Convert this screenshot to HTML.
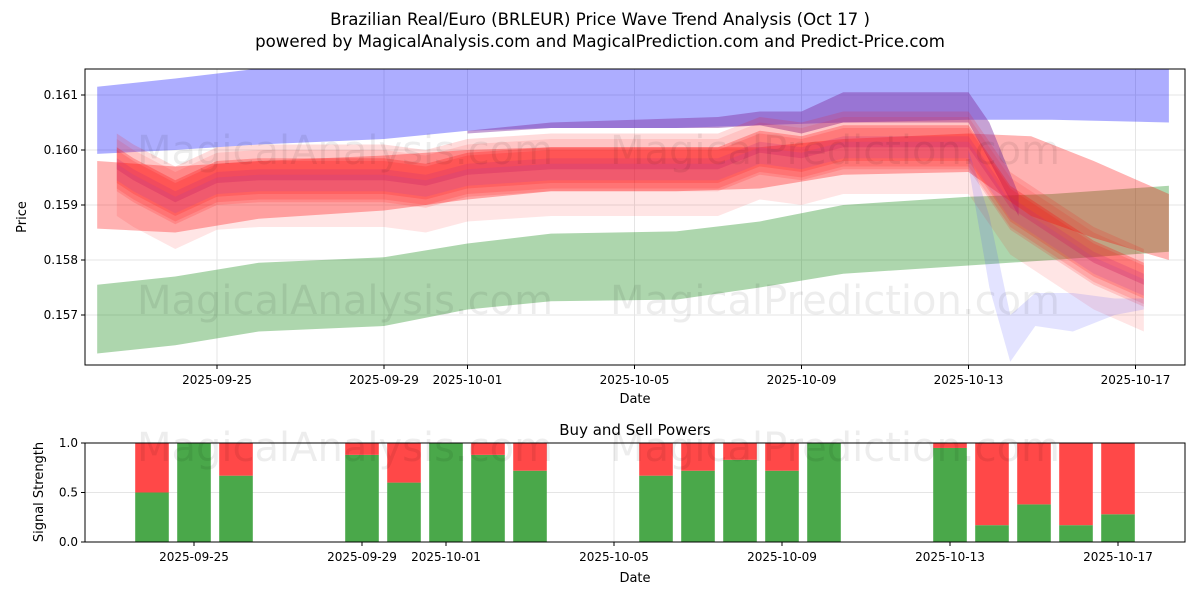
<!DOCTYPE html>
<html><head><meta charset="utf-8"><style>
body{margin:0;background:#fff;font-family:"Liberation Sans","DejaVu Sans",sans-serif}
svg text{font-family:"DejaVu Sans","Liberation Sans",sans-serif}
</style></head><body>
<svg id="c" width="1200" height="600" viewBox="0 0 1200 600">
<text x="600" y="25" text-anchor="middle" font-size="16.6">Brazilian Real/Euro (BRLEUR) Price Wave Trend Analysis (Oct 17 )</text>
<text x="600" y="47" text-anchor="middle" font-size="16.6">powered by MagicalAnalysis.com and MagicalPrediction.com and Predict-Price.com</text>
<defs><clipPath id="cp1"><rect x="85" y="69" width="1100" height="296"/></clipPath><clipPath id="cp2"><rect x="85" y="443" width="1100" height="99"/></clipPath></defs>
<g id="topg" clip-path="url(#cp1)"></g>
<g id="botg" clip-path="url(#cp2)"></g>
<g id="axes"></g>
</svg>
<script>
const bandDates=["2025-09-22.13","2025-09-24","2025-09-26","2025-09-29","2025-10-01","2025-10-03","2025-10-06","2025-10-08","2025-10-10","2025-10-13","2025-10-15","2025-10-17.8"];
const blueTop=[0.16115,0.1613,0.16148,0.1616,0.1617,0.1617,0.1617,0.1617,0.1617,0.1617,0.1617,0.1617];
const blueBot=[0.15993,0.16,0.1601,0.1602,0.16035,0.1604,0.1604,0.16045,0.1605,0.16055,0.16055,0.1605];
const greenTop=[0.15755,0.1577,0.15795,0.15805,0.1583,0.15848,0.15852,0.1587,0.159,0.15915,0.1592,0.15935];
const greenBot=[0.1563,0.15645,0.1567,0.1568,0.1571,0.15725,0.15728,0.1575,0.15775,0.1579,0.158,0.15815];
const wideDates=["2025-09-22.13","2025-09-24","2025-09-26","2025-09-29","2025-10-01","2025-10-03","2025-10-06","2025-10-08","2025-10-10","2025-10-13","2025-10-14.5","2025-10-16","2025-10-17.8"];
const wideTop=[0.1598,0.1597,0.1598,0.1599,0.16,0.16005,0.16005,0.16005,0.1602,0.1603,0.16025,0.1598,0.1592];
const wideBot=[0.15857,0.1585,0.15875,0.1589,0.1591,0.15925,0.15925,0.1593,0.15955,0.1596,0.1588,0.1584,0.1580];
const priceDates=["2025-09-22.6","2025-09-23","2025-09-24","2025-09-25","2025-09-26","2025-09-29","2025-09-30","2025-10-01","2025-10-03","2025-10-06","2025-10-07","2025-10-08","2025-10-09","2025-10-10","2025-10-13","2025-10-14","2025-10-15","2025-10-16","2025-10-17.2"];
const priceMid=[0.1597,0.1595,0.1591,0.15945,0.1595,0.1595,0.1594,0.1596,0.1597,0.1597,0.1597,0.1600,0.1599,0.1601,0.1601,0.1590,0.1585,0.1580,0.1576];
const purpleDates=["2025-10-01","2025-10-03","2025-10-05","2025-10-07","2025-10-08","2025-10-09","2025-10-10","2025-10-13","2025-10-13.5","2025-10-14.2"];
const purpleTop=[0.16035,0.1605,0.16055,0.1606,0.1607,0.1607,0.16105,0.16105,0.1605,0.1592];
const purpleBot=[0.1603,0.1604,0.1604,0.1604,0.16045,0.1603,0.1605,0.1605,0.1598,0.1588];
const dipDates=["2025-10-13","2025-10-13.5","2025-10-14","2025-10-14.6","2025-10-15.5","2025-10-16.5","2025-10-17.2"];
const dipTop=[0.1600,0.1588,0.1570,0.1574,0.1574,0.1573,0.1573];
const dipBot=[0.1597,0.1575,0.15615,0.1568,0.1567,0.157,0.1571];
const barDates=["2025-09-24","2025-09-25","2025-09-26","2025-09-29","2025-09-30","2025-10-01","2025-10-02","2025-10-03","2025-10-06","2025-10-07","2025-10-08","2025-10-09","2025-10-10","2025-10-13","2025-10-14","2025-10-15","2025-10-16","2025-10-17"];
const buyPower=[0.5,1.0,0.67,0.88,0.6,1.0,0.88,0.72,0.67,0.72,0.83,0.72,1.0,0.95,0.17,0.38,0.17,0.28];
const xTicks=["2025-09-25","2025-09-29","2025-10-01","2025-10-05","2025-10-09","2025-10-13","2025-10-17"];
const yTicks=[0.157,0.158,0.159,0.160,0.161];
const y2Ticks=[0.0,0.5,1.0];

const NS="http://www.w3.org/2000/svg";
function dayOf(s){const p=s.split(".");const base=Date.UTC(+p[0].slice(0,4),+p[0].slice(5,7)-1,+p[0].slice(8,10));const frac=p[1]?+("0."+p[1]):0;return (base-Date.UTC(2025,8,25))/864e5+frac;}
const X=s=>217+dayOf(s)*41.75;
const X2=s=>194+dayOf(s)*42;
const Y=v=>150-(v-0.160)*55000;
const Y2=v=>542-v*99;
function el(t,a,p){const e=document.createElementNS(NS,t);for(const k in a)e.setAttribute(k,a[k]);p.appendChild(e);return e;}
const topG=document.getElementById("topg"),botG=document.getElementById("botg"),ax=document.getElementById("axes");
xTicks.forEach(d=>{el("line",{x1:X(d),x2:X(d),y1:69,y2:365,stroke:"#e5e5e5"},topG);el("line",{x1:X2(d),x2:X2(d),y1:443,y2:542,stroke:"#e5e5e5"},botG);});
yTicks.forEach(v=>el("line",{x1:85,x2:1185,y1:Y(v),y2:Y(v),stroke:"#e5e5e5"},topG));
y2Ticks.forEach(v=>el("line",{x1:85,x2:1185,y1:Y2(v),y2:Y2(v),stroke:"#e5e5e5"},botG));
function band(dates,hi,lo,fill,op,name){let d="M";dates.forEach((s,i)=>d+=(i?"L":"")+X(s)+","+Y(hi[i]));for(let i=dates.length-1;i>=0;i--)d+="L"+X(dates[i])+","+Y(lo[i]);const p=el("path",{d:d+"Z",fill:fill,"fill-opacity":op},topG);

}
band(bandDates,blueTop,blueBot,"#0000ff",0.32,"upper-blue-band");
band(bandDates,greenTop,greenBot,"#008000",0.32,"lower-green-band");
band(wideDates,wideTop,wideBot,"#ff0000",0.3,"wide-red-band");
band(purpleDates,purpleTop,purpleBot,"#8030a0",0.45,"purple-band");
const waves=[[0.0001,0.00005,"#8040ff",0.2],[0.0007,-0.0002,"#ff0000",0.1],[0.0005,0.0001,"#ff0000",0.14],[0.0003,0,"#ff0000",0.16],[0.0002,0.00015,"#ff2020",0.16],[0.00015,-0.0001,"#a040c0",0.18],[0.0004,-0.00005,"#ff0000",0.14]];
waves.forEach((w,k)=>{band(priceDates,priceMid.map(v=>v+w[1]+w[0]),priceMid.map(v=>v+w[1]-w[0]),w[2],w[3],"price-wave-"+k);});
band(dipDates,dipTop,dipBot,"#4040ff",0.15,"blue-dip-band");
const bw=0.8*42;
barDates.forEach((d,i)=>{const x=X2(d)-bw/2;
const g=el("rect",{x:x,y:Y2(buyPower[i]),width:bw,height:Y2(0)-Y2(buyPower[i]),fill:"#4aa84a"},botG);


const r=el("rect",{x:x,y:Y2(1),width:bw,height:Y2(buyPower[i])-Y2(1),fill:"#ff4848"},botG);

});
[[345,150],[835,150],[345,300],[835,300],[345,447],[835,447]].forEach(p=>{const t=el("text",{x:p[0],y:p[1]+14,"text-anchor":"middle","font-size":40,fill:"#000","fill-opacity":0.07},ax);t.textContent=p[0]<600?"MagicalAnalysis.com":"MagicalPrediction.com";

});
el("rect",{x:85,y:69,width:1100,height:296,fill:"none",stroke:"#000"},ax);
el("rect",{x:85,y:443,width:1100,height:99,fill:"none",stroke:"#000"},ax);
function txt(x,y,s,a,size,name,rot){const t=el("text",{x:x,y:y,"text-anchor":a,"font-size":size||12},ax);if(rot)t.setAttribute("transform","rotate(-90 "+x+" "+y+")");t.textContent=s;

}
xTicks.forEach(d=>{const x=X(d),x2=X2(d);el("line",{x1:x,x2:x,y1:365,y2:369,stroke:"#000"},ax);el("line",{x1:x2,x2:x2,y1:542,y2:546,stroke:"#000"},ax);txt(x,384,d,"middle",12,"x-tick-label");txt(x2,561,d,"middle",12,"x-tick-label-2");});
yTicks.forEach(v=>{el("line",{x1:81,x2:85,y1:Y(v),y2:Y(v),stroke:"#000"},ax);txt(78,Y(v)+4,v.toFixed(3),"end",12,"y-tick-label");});
y2Ticks.forEach(v=>{el("line",{x1:81,x2:85,y1:Y2(v),y2:Y2(v),stroke:"#000"},ax);txt(78,Y2(v)+4,v.toFixed(1),"end",12,"y2-tick-label");});
txt(635,403,"Date","middle",13,"x-axis-title");
txt(635,582,"Date","middle",13,"x-axis-title-2");
txt(26,217,"Price","middle",13,"y-axis-title",true);
txt(43,492,"Signal Strength","middle",13,"y2-axis-title",true);
txt(635,435,"Buy and Sell Powers","middle",15,"subplot-title");
</script>
</body></html>
